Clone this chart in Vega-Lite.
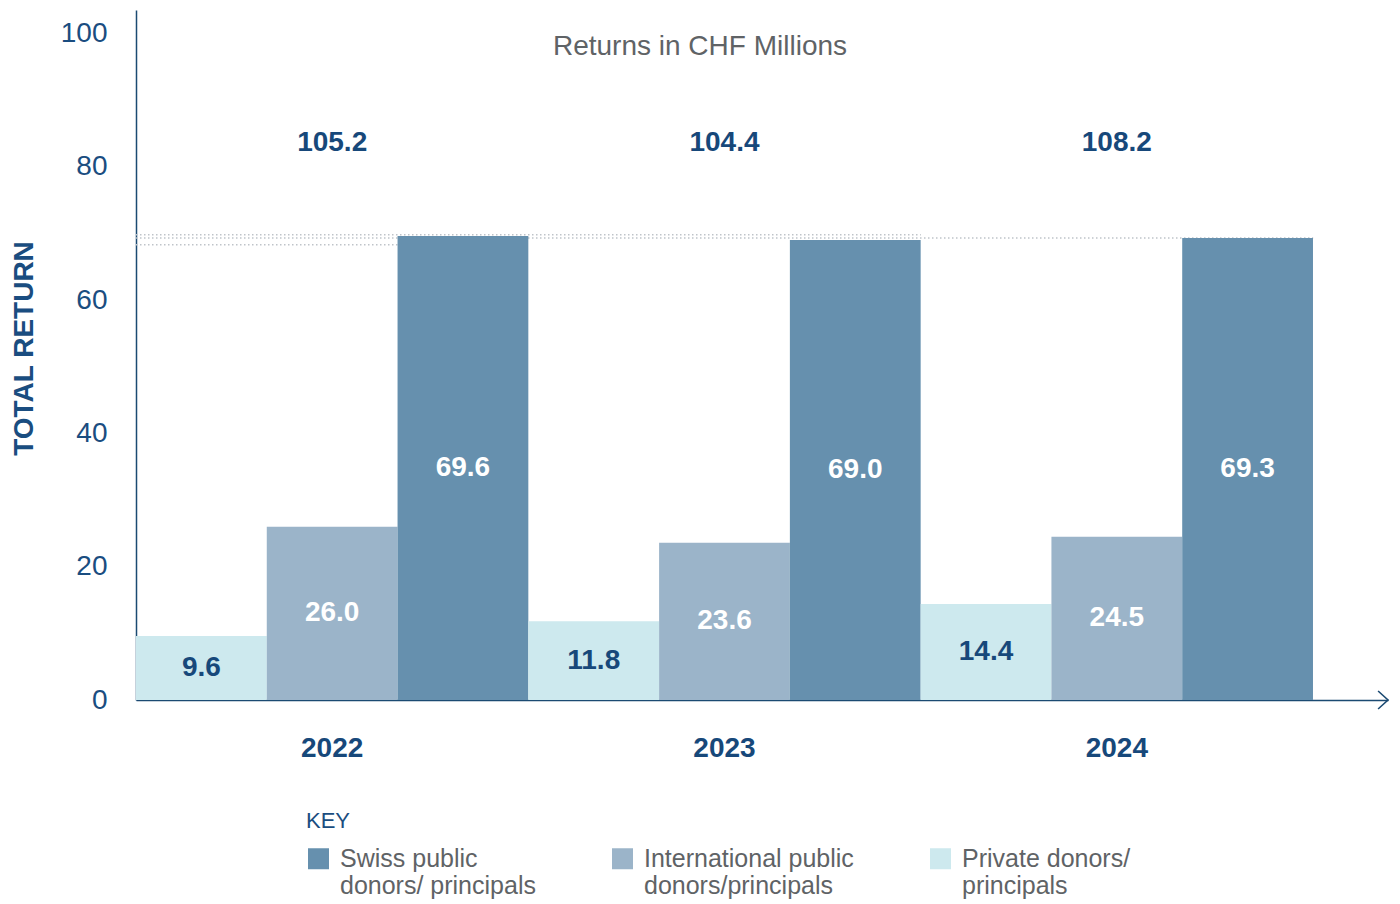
{
  "$schema": "https://vega.github.io/schema/vega-lite/v6.json",
  "width": 1252,
  "height": 690,
  "autosize": {"type": "none"},
  "padding": {"left": 136, "top": 10, "right": 12, "bottom": 204},
  "background": "white",
  "config": {
    "view": {"stroke": null},
    "font": "Liberation Sans"
  },
  "title": {
    "text": "Returns in CHF Millions",
    "fontSize": 28,
    "fontWeight": "normal",
    "color": "#5f6366",
    "font": "Liberation Sans",
    "anchor": "middle",
    "baseline": "alphabetic",
    "offset": 0,
    "dx": -62,
    "dy": 73
  },
  "datasets": {
    "returns": [
      {"year": "2022", "type": "Private donors/ principals", "value": 9.6},
      {"year": "2022", "type": "International public donors/principals", "value": 26.0},
      {"year": "2022", "type": "Swiss public donors/ principals", "value": 69.6},
      {"year": "2023", "type": "Private donors/ principals", "value": 11.8},
      {"year": "2023", "type": "International public donors/principals", "value": 23.6},
      {"year": "2023", "type": "Swiss public donors/ principals", "value": 69.0},
      {"year": "2024", "type": "Private donors/ principals", "value": 14.4},
      {"year": "2024", "type": "International public donors/principals", "value": 24.5},
      {"year": "2024", "type": "Swiss public donors/ principals", "value": 69.3}
    ],
    "totals": [
      {"year": "2022", "total": 105.2},
      {"year": "2023", "total": 104.4},
      {"year": "2024", "total": 108.2}
    ]
  },
  "resolve": {"scale": {"x": "independent", "y": "independent", "color": "independent"}},
  "layer": [
    {
      "data": {"values": [{}]},
      "mark": {"type": "rule", "color": "#bfc4c9", "strokeWidth": 1.5, "strokeDash": [1.5, 2.5]},
      "encoding": {
        "x": {"datum": 0, "type": "quantitative", "scale": {"domain": [0, 9.572], "nice": false, "zero": false}, "axis": null},
        "x2": {"datum": 6},
        "y": {"datum": 69.8, "type": "quantitative", "scale": {"domain": [0, 103.5], "nice": false}, "axis": null}
      }
    },
    {
      "data": {"values": [{}]},
      "mark": {"type": "rule", "color": "#bfc4c9", "strokeWidth": 1.5, "strokeDash": [1.5, 2.5]},
      "encoding": {
        "x": {"datum": 0, "type": "quantitative", "scale": {"domain": [0, 9.572], "nice": false, "zero": false}, "axis": null},
        "x2": {"datum": 9},
        "y": {"datum": 69.3, "type": "quantitative", "scale": {"domain": [0, 103.5], "nice": false}, "axis": null}
      }
    },
    {
      "data": {"values": [{}]},
      "mark": {"type": "rule", "color": "#bfc4c9", "strokeWidth": 1.5, "strokeDash": [1.5, 2.5]},
      "encoding": {
        "x": {"datum": 0, "type": "quantitative", "scale": {"domain": [0, 9.572], "nice": false, "zero": false}, "axis": null},
        "x2": {"datum": 2},
        "y": {"datum": 68.3, "type": "quantitative", "scale": {"domain": [0, 103.5], "nice": false}, "axis": null}
      }
    },
    {
      "data": {"name": "returns"},
      "mark": {"type": "bar", "strokeWidth": 0},
      "encoding": {
        "x": {
          "field": "year", "type": "nominal",
          "scale": {"type": "band", "domain": ["2022", "2023", "2024"], "paddingInner": 0, "paddingOuter": 0.0956, "align": 0},
          "axis": {
            "title": null,
            "labelAngle": 0,
            "ticks": false,
            "labelFontSize": 28,
            "labelFontWeight": "bold",
            "labelColor": "#17487a",
            "labelFont": "Liberation Sans",
            "labelBaseline": "middle",
            "labelPadding": 48,
            "domainColor": "#1b4a72",
            "domainWidth": 1.5,
            "grid": false
          }
        },
        "xOffset": {
          "field": "type", "type": "nominal",
          "scale": {"domain": ["Private donors/ principals", "International public donors/principals", "Swiss public donors/ principals"], "paddingInner": 0, "paddingOuter": 0}
        },
        "y": {
          "field": "value", "type": "quantitative",
          "scale": {"domain": [0, 103.5], "nice": false},
          "axis": {
            "values": [0, 20, 40, 60, 80, 100],
            "grid": false,
            "ticks": false,
            "labelPadding": 29,
            "labelFontSize": 28,
            "labelColor": "#1a4d80",
            "labelFont": "Liberation Sans",
            "domainColor": "#1b4a72",
            "domainWidth": 1.5,
            "title": "TOTAL RETURN",
            "titleFontSize": 28,
            "titleFontWeight": "bold",
            "titleColor": "#1a4d80",
            "titleFont": "Liberation Sans",
            "titleAngle": 270,
            "titleX": -112,
            "titleY": 338,
            "titleAlign": "center",
            "titleBaseline": "middle"
          }
        },
        "color": {
          "field": "type", "type": "nominal",
          "scale": {
            "domain": ["Swiss public donors/ principals", "International public donors/principals", "Private donors/ principals"],
            "range": ["#6690ae", "#9bb4c9", "#cde9ee"]
          },
          "legend": {
            "title": "KEY",
            "orient": "none",
            "legendX": 170,
            "legendY": 801,
            "direction": "horizontal",
            "columns": 3,
            "gridAlign": "each",
            "columnPadding": 74,
            "titleFontSize": 22,
            "titleFontWeight": "normal",
            "titleColor": "#1a4d80",
            "titleFont": "Liberation Sans",
            "titlePadding": 13,
            "symbolType": "square",
            "symbolSize": 441,
            "symbolStrokeWidth": 0,
            "symbolOpacity": 1,
            "labelFontSize": 25,
            "labelFont": "Liberation Sans",
            "labelColor": "#5f6366",
            "labelOffset": 9,
            "labelLimit": 400,
            "labelBaseline": "middle",
            "labelExpr": "datum.label === 'Swiss public donors/ principals' ? ['Swiss public', 'donors/ principals'] : datum.label === 'International public donors/principals' ? ['International public', 'donors/principals'] : ['Private donors/', 'principals']"
          }
        }
      }
    },
    {
      "data": {"name": "returns"},
      "mark": {"type": "text", "fontSize": 28, "fontWeight": "bold", "font": "Liberation Sans", "baseline": "middle", "align": "center"},
      "encoding": {
        "x": {
          "field": "year", "type": "nominal",
          "scale": {"type": "band", "domain": ["2022", "2023", "2024"], "paddingInner": 0, "paddingOuter": 0.0956, "align": 0},
          "axis": null
        },
        "xOffset": {
          "field": "type", "type": "nominal",
          "scale": {"domain": ["Private donors/ principals", "International public donors/principals", "Swiss public donors/ principals"], "paddingInner": 0, "paddingOuter": 0}
        },
        "y": {"field": "value", "type": "quantitative", "scale": {"domain": [0, 207], "nice": false}, "axis": null},
        "text": {"field": "value", "type": "quantitative", "format": ".1f"},
        "color": {
          "condition": {"test": "datum.type === 'Private donors/ principals'", "value": "#17487a"},
          "value": "#ffffff"
        }
      }
    },
    {
      "data": {"name": "totals"},
      "mark": {"type": "text", "fontSize": 28, "fontWeight": "bold", "font": "Liberation Sans", "baseline": "middle", "align": "center", "color": "#17487a"},
      "encoding": {
        "x": {
          "field": "year", "type": "nominal",
          "scale": {"type": "band", "domain": ["2022", "2023", "2024"], "paddingInner": 0, "paddingOuter": 0.0956, "align": 0},
          "axis": null
        },
        "y": {"datum": 83.6, "type": "quantitative", "scale": {"domain": [0, 103.5], "nice": false}, "axis": null},
        "text": {"field": "total", "type": "quantitative", "format": ".1f"}
      }
    },
    {
      "data": {"values": [{}]},
      "mark": {"type": "point", "shape": "M-1.1,-1L0,0L-1.1,1", "filled": false, "stroke": "#1b4a72", "strokeWidth": 1.6, "size": 324, "opacity": 1},
      "encoding": {
        "x": {"datum": 9.572, "type": "quantitative", "scale": {"domain": [0, 9.572], "nice": false, "zero": false}, "axis": null},
        "y": {"datum": 0, "type": "quantitative", "scale": {"domain": [0, 103.5], "nice": false}, "axis": null}
      }
    }
  ]
}
